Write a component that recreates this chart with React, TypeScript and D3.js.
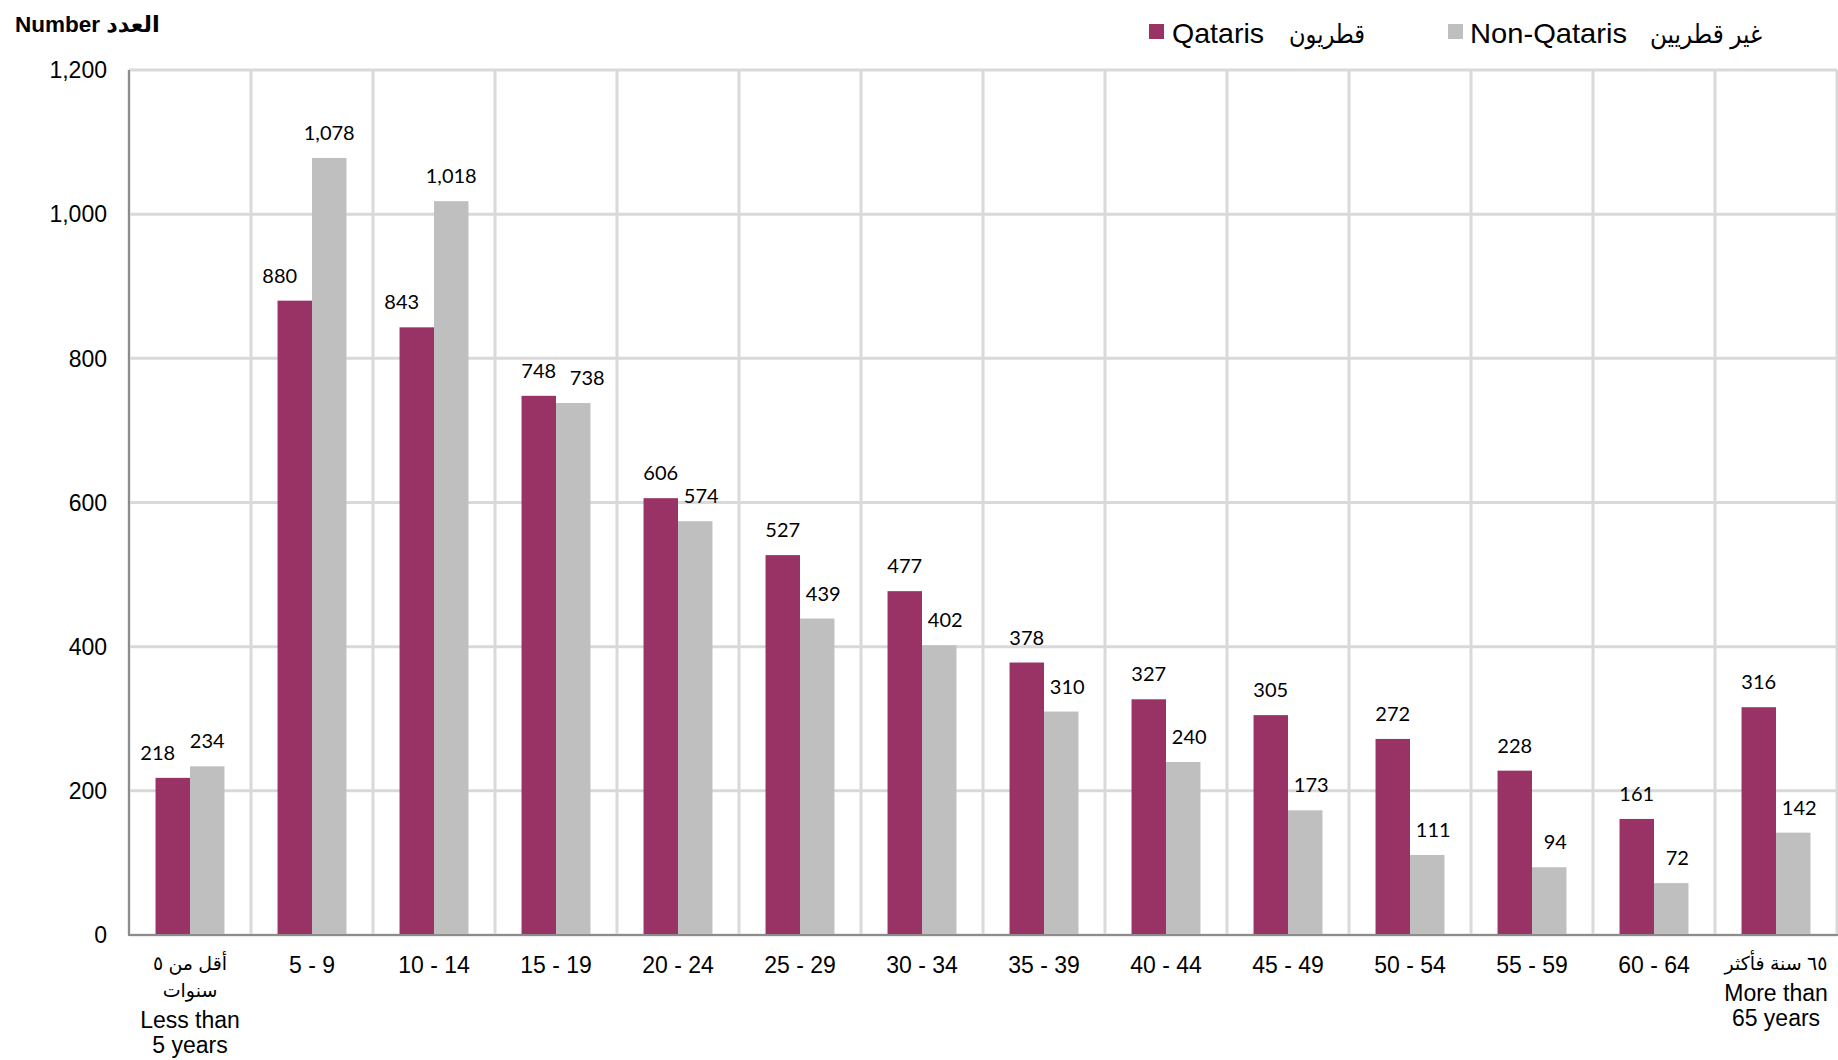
import React from "react";
import * as d3 from "d3";

const categories: string[][] = [
  ["أقل من ٥", "سنوات", "Less than", "5 years"],
  ["5 - 9"],
  ["10 - 14"],
  ["15 - 19"],
  ["20 - 24"],
  ["25 - 29"],
  ["30 - 34"],
  ["35 - 39"],
  ["40 - 44"],
  ["45 - 49"],
  ["50 - 54"],
  ["55 - 59"],
  ["60 - 64"],
  ["٦٥ سنة فأكثر", "More than", "65 years"],
];
const qataris = [218, 880, 843, 748, 606, 527, 477, 378, 327, 305, 272, 228, 161, 316];
const nonQataris = [234, 1078, 1018, 738, 574, 439, 402, 310, 240, 173, 111, 94, 72, 142];
const yTicks = [0, 200, 400, 600, 800, 1000, 1200];
const seriesNames = [
  { en: "Qataris", ar: "قطريون" },
  { en: "Non-Qataris", ar: "غير قطريين" },
];

const W = 1838;
const H = 1060;
const M = { left: 129, right: 1837, top: 70, bottom: 935 };
const COLORS = ["#993366", "#BFBFBF"];
const FONT = "'Liberation Sans', Arial, 'DejaVu Sans', sans-serif";
const LABEL_FONT = "Lato, Carlito, Calibri, 'Open Sans', sans-serif";

const isArabic = (s: string) => /[\u0600-\u06FF]/.test(s);

export default function App() {
  const x = d3
    .scaleBand<number>()
    .domain(d3.range(categories.length))
    .range([M.left, M.right])
    .paddingInner(0)
    .paddingOuter(0);
  const bw = x.bandwidth();
  const inner = d3
    .scaleBand<number>()
    .domain([0, 1])
    .range([0, bw])
    .paddingInner(0)
    .paddingOuter(0.77);
  const y = d3.scaleLinear().domain([0, 1200]).range([M.bottom, M.top]);
  const barW = inner.bandwidth();

  const fmt = d3.format(",");

  return (
    <svg
      width={W}
      height={H}
      style={{ position: "fixed", left: 0, top: 0, background: "#fff" }}
    >
      <rect x={0} y={0} width={W} height={H} fill="#fff" />
      {/* title */}
      <text x={15} y={32} fontFamily={FONT} fontWeight="bold" fontSize={22.5} fill="#000">
        Number العدد
      </text>

      {/* horizontal gridlines */}
      {yTicks.map((t) => (
        <line
          key={"h" + t}
          x1={M.left}
          x2={M.right}
          y1={y(t)}
          y2={y(t)}
          stroke="#D9D9D9"
          strokeWidth={3}
        />
      ))}
      {/* vertical gridlines */}
      {d3.range(categories.length + 1).map((i) => {
        const xx = i < categories.length ? (x(i) as number) : M.right;
        return (
          <line
            key={"v" + i}
            x1={xx}
            x2={xx}
            y1={M.top}
            y2={M.bottom}
            stroke="#D9D9D9"
            strokeWidth={3}
          />
        );
      })}

      {/* y tick labels */}
      {yTicks.map((t) => (
        <text
          key={"yt" + t}
          x={107}
          y={y(t)}
          dy="0.36em"
          textAnchor="end"
          fontFamily={FONT}
          fontSize={23}
          fill="#000"
        >
          {fmt(t)}
        </text>
      ))}

      {/* bars */}
      {categories.map((_, i) => {
        const vals = [qataris[i], nonQataris[i]];
        return (
          <g key={"g" + i}>
            {vals.map((v, s) => (
              <rect
                key={s}
                x={(x(i) as number) + (inner(s) as number)}
                y={y(v)}
                width={barW}
                height={y(0) - y(v)}
                fill={COLORS[s]}
              />
            ))}
          </g>
        );
      })}

      {/* value labels */}
      {categories.map((_, i) => {
        const q = qataris[i];
        const n = nonQataris[i];
        const cq = (x(i) as number) + (inner(0) as number) + barW / 2;
        const cn = (x(i) as number) + (inner(1) as number) + barW / 2;
        const dq = n > q ? -15 : 0;
        let dn = 0;
        if (q > n) dn = Math.abs(y(q) - y(n)) < 20 ? 14 : 6;
        return (
          <g key={"l" + i} fontFamily={LABEL_FONT} fontSize={20} fill="#000" textAnchor="middle">
            <text x={cq + dq} y={y(q) - 18}>
              {fmt(q)}
            </text>
            <text x={cn + dn} y={y(n) - 18}>
              {fmt(n)}
            </text>
          </g>
        );
      })}

      {/* axes */}
      <line x1={M.left} x2={M.left} y1={M.top} y2={M.bottom + 1} stroke="#8C8C8C" strokeWidth={2} />
      <line x1={M.left} x2={M.right + 1} y1={M.bottom} y2={M.bottom} stroke="#8C8C8C" strokeWidth={2} />

      {/* x labels */}
      {categories.map((lines, i) => {
        const cx = (x(i) as number) + bw / 2;
        let yy = 0;
        const ys: number[] = [];
        lines.forEach((l, k) => {
          if (k === 0) yy = lines.length > 1 ? 970 : 973;
          else {
            const prevAr = isArabic(lines[k - 1]);
            const curAr = isArabic(l);
            yy += prevAr && curAr ? 27 : prevAr && !curAr ? 31 : 25;
          }
          ys.push(yy);
        });
        return (
          <g key={"x" + i}>
            {lines.map((l, k) => (
              <text
                key={k}
                x={cx}
                y={ys[k]}
                textAnchor="middle"
                fontFamily={FONT}
                fontSize={isArabic(l) ? 19 : 23}
                fill="#000"
              >
                {l}
              </text>
            ))}
          </g>
        );
      })}

      {/* legend */}
      <g fill="#000">
        <rect x={1149} y={24} width={15} height={15} fill={COLORS[0]} />
        <text x={1172} y={43} fontFamily={FONT} fontSize={28} textLength={92} lengthAdjust="spacingAndGlyphs">
          {seriesNames[0].en}
        </text>
        <text x={1289} y={43} fontFamily={FONT} fontSize={26} textLength={76} lengthAdjust="spacingAndGlyphs">
          {seriesNames[0].ar}
        </text>
        <rect x={1448} y={24} width={15} height={15} fill={COLORS[1]} />
        <text x={1470} y={43} fontFamily={FONT} fontSize={28} textLength={157} lengthAdjust="spacingAndGlyphs">
          {seriesNames[1].en}
        </text>
        <text x={1650} y={43} fontFamily={FONT} fontSize={26} textLength={112} lengthAdjust="spacingAndGlyphs">
          {seriesNames[1].ar}
        </text>
      </g>
    </svg>
  );
}
